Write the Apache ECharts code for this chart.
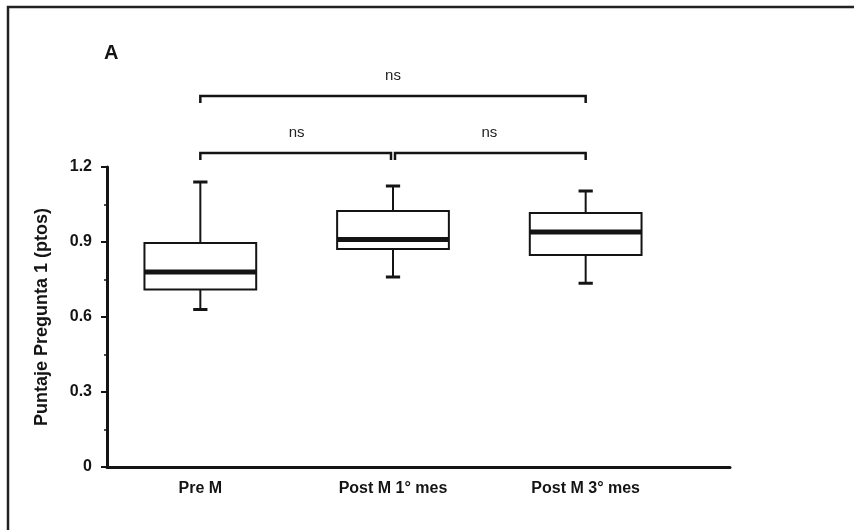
<!DOCTYPE html>
<html><head><meta charset="utf-8">
<script src="https://cdn.jsdelivr.net/npm/echarts@6/dist/echarts.min.js"></script>
<style>html,body{margin:0;padding:0;background:#fff}#c{width:854px;height:530px}</style>
</head><body><div id="c"></div>
<script>
const categories = ['Pre M', 'Post M 1° mes', 'Post M 3° mes'];
const whiskerLow = [0.63, 0.76, 0.735];
const q1 = [0.71, 0.872, 0.848];
const medians = [0.78, 0.91, 0.94];
const q3 = [0.896, 1.024, 1.016];
const whiskerHigh = [1.14, 1.124, 1.104];
const yTicks = [0, 0.3, 0.6, 0.9, 1.2];
const brackets = [
  {from: 0, to: 1, y: 1.256, label: 'ns', side: 'left'},
  {from: 1, to: 2, y: 1.256, label: 'ns', side: 'right'},
  {from: 0, to: 2, y: 1.484, label: 'ns', side: 'none'}
];

const boxData = categories.map((c, i) => [i, whiskerLow[i], q1[i], medians[i], q3[i], whiskerHigh[i]]);
const bracketData = brackets.map(b => [b.from, b.to, b.y]);
const FONT = '"Liberation Sans", Arial, sans-serif';
const INK = '#141414';

const chart = echarts.init(document.getElementById('c'), null, {renderer: 'canvas'});
chart.setOption({
  animation: false,
  backgroundColor: '#fff',
  grid: [
    {left: 107, right: 124, top: 167, bottom: 63},
    {left: 104, right: 172, top: 167, bottom: 63}
  ],
  xAxis: [
    {type: 'value', gridIndex: 0, min: 0, max: 1,
     axisLine: {show: true, lineStyle: {color: INK, width: 3}},
     axisTick: {show: false}, axisLabel: {show: false}, splitLine: {show: false}},
    {type: 'category', gridIndex: 1, data: categories, boundaryGap: true,
     axisLine: {show: false}, axisTick: {show: false}, splitLine: {show: false},
     axisLabel: {color: INK, fontFamily: FONT, fontWeight: 'bold', fontSize: 16, margin: 14}}
  ],
  yAxis: [
    {type: 'value', gridIndex: 0, min: 0, max: 1.2, interval: 0.3,
     name: 'Puntaje Pregunta 1 (ptos)', nameLocation: 'middle', nameGap: 56,
     nameTextStyle: {color: INK, fontFamily: FONT, fontWeight: 'bold', fontSize: 18},
     axisLine: {show: true, lineStyle: {color: INK, width: 3}},
     axisTick: {show: true, length: 6, lineStyle: {color: INK, width: 2}},
     minorTick: {show: true, splitNumber: 2, length: 3, lineStyle: {color: INK, width: 1.5}},
     axisLabel: {color: INK, fontFamily: FONT, fontWeight: 'bold', fontSize: 16, margin: 15,
       formatter: v => { const t = yTicks.find(x => Math.abs(x - v) < 1e-9); return t === 0 ? '0' : t.toFixed(1); }},
     splitLine: {show: false}},
    {type: 'value', gridIndex: 1, min: 0, max: 1.2, interval: 0.3, show: false}
  ],
  graphic: [
    {type: 'polyline', shape: {points: [[8, 530], [8, 7], [854, 7]]}, style: {stroke: '#222', lineWidth: 2.5, fill: null}},
    {type: 'text', left: 104, top: 43, style: {text: 'A', font: 'bold 20px ' + FONT, fill: INK}}
  ],
  series: [
    {
      type: 'custom', xAxisIndex: 1, yAxisIndex: 1,
      encode: {x: 0, y: [1, 2, 3, 4, 5]},
      data: boxData,
      renderItem: function (params, api) {
        const i = api.value(0);
        const pLow = api.coord([i, api.value(1)]);
        const pQ1 = api.coord([i, api.value(2)]);
        const pMed = api.coord([i, api.value(3)]);
        const pQ3 = api.coord([i, api.value(4)]);
        const pHigh = api.coord([i, api.value(5)]);
        const band = api.size([1, 0])[0];
        const hw = band * 0.29;
        const cw = band * 0.037;
        const x = pMed[0];
        const ls = {stroke: INK, lineWidth: 2};
        return {type: 'group', children: [
          {type: 'line', shape: {x1: x, y1: pHigh[1], x2: x, y2: pQ3[1]}, style: ls},
          {type: 'line', shape: {x1: x, y1: pQ1[1], x2: x, y2: pLow[1]}, style: ls},
          {type: 'line', shape: {x1: x - cw, y1: pHigh[1], x2: x + cw, y2: pHigh[1]}, style: {stroke: INK, lineWidth: 3}},
          {type: 'line', shape: {x1: x - cw, y1: pLow[1], x2: x + cw, y2: pLow[1]}, style: {stroke: INK, lineWidth: 3}},
          {type: 'rect', shape: {x: x - hw, y: pQ3[1], width: 2 * hw, height: pQ1[1] - pQ3[1]}, style: {fill: '#fff', stroke: INK, lineWidth: 2}},
          {type: 'line', shape: {x1: x - hw, y1: pMed[1], x2: x + hw, y2: pMed[1]}, style: {stroke: INK, lineWidth: 5}}
        ]};
      },
      z: 5
    },
    {
      type: 'custom', xAxisIndex: 1, yAxisIndex: 1, clip: false,
      encode: {x: [0, 1], y: 2},
      data: bracketData,
      renderItem: function (params, api) {
        const b = brackets[params.dataIndex];
        const a = api.coord([api.value(0), api.value(2)]);
        const c = api.coord([api.value(1), api.value(2)]);
        let x1 = a[0], x2 = c[0];
        if (b.side === 'left') x2 -= 2;
        if (b.side === 'right') x1 += 2;
        const y = a[1];
        const tick = 7;
        return {type: 'group', children: [
          {type: 'polyline', shape: {points: [[x1, y + tick], [x1, y], [x2, y], [x2, y + tick]]}, style: {stroke: INK, lineWidth: 2.5, fill: null}},
          {type: 'text', x: (a[0] + c[0]) / 2, y: y - 20, style: {text: b.label, font: '15px ' + FONT, fill: '#222', align: 'center', verticalAlign: 'middle'}}
        ]};
      },
      z: 5
    }
  ]
});
</script></body></html>
